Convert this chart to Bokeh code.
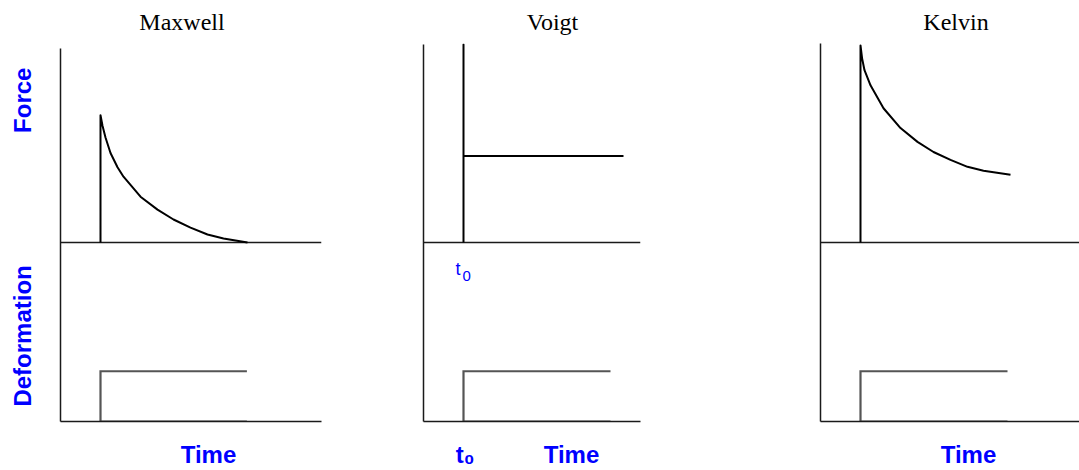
from bokeh.plotting import figure
from bokeh.models import Range1d, Label, FixedTicker, LinearAxis
from bokeh.layouts import row
from bokeh.embed import file_html
from bokeh.resources import INLINE

# ---------------- data ----------------
models = ["Maxwell", "Voigt", "Kelvin"]
t0 = 1.0  # time of load application

# force responses (time units, force units)
maxwell_t = [1.0, 1.0, 1.05, 1.125, 1.25, 1.425, 1.575, 2.0, 2.425, 2.825, 3.25, 3.675, 4.075, 4.675]
maxwell_f = [0.0, 0.643, 0.59, 0.53, 0.452, 0.38, 0.332, 0.231, 0.166, 0.116, 0.075, 0.040, 0.020, 0.0]

voigt_t = [1.0, 1.0, 1.0, 5.0]
voigt_f = [0.0, 1.0, 0.437, 0.437]

kelvin_t = [1.0, 1.0, 1.04, 1.1, 1.25, 1.575, 2.0, 2.425, 2.825, 3.25, 3.675, 4.075, 4.75]
kelvin_f = [0.0, 0.995, 0.93, 0.87, 0.794, 0.678, 0.578, 0.508, 0.457, 0.417, 0.382, 0.362, 0.342]

# deformation step: end time and step height
deform_end = [4.66, 4.675, 4.675]
deform_level = [1.0, 1.0, 1.0]

force_t = [maxwell_t, voigt_t, kelvin_t]
force_f = [maxwell_f, voigt_f, kelvin_f]

# axis texts
y_labels = ["Force", "Deformation"]
x_label = "Time"
t0_label = "t\u2080"

# ---------------- layout (pixel geometry) ----------------
H = 470
FT = 43            # common frame top
PX_T = 40.0        # px per time unit
PX_F = 199.0       # px per force unit
PX_D = 50.5        # px per deformation unit
BASE_Y = 243       # y of force baseline
BOT_Y = 423        # y of time axis

cols = [
    dict(left=0,   width=370, fl=60,  fr=321,  axis_top=48),
    dict(left=370, width=390, fl=423, fr=640,  axis_top=44),
    dict(left=760, width=319, fl=820, fr=1079, axis_top=43),
]
title_center_x = [181.5, 552.0, 955.5]
title_standoff = [9, 9, 9]
time_center_x = [208, 571, 968]
ylab_center_y = [100, 337]

BLUE = "#0000ff"
AXC = "#1a1a1a"


def plain_axis(ax):
    ax.major_tick_line_color = None
    ax.minor_tick_line_color = None
    ax.major_tick_out = 0
    ax.major_tick_in = 0
    ax.minor_tick_out = 0
    ax.minor_tick_in = 0


figs = []
for i, c in enumerate(cols):
    bl = c["fl"] - c["left"]
    fw = c["fr"] - c["fl"]
    br = c["width"] - bl - fw
    bb = H - BOT_Y

    def T(x, c=c):
        return (x - c["fl"]) / PX_T

    def F(y):
        return (BASE_Y - y) / PX_F

    def D(y):
        return (BOT_Y - y) / PX_D

    p = figure(width=c["width"], height=H, output_backend="svg", toolbar_location=None,
               title=None,
               min_border_left=bl, min_border_right=br, min_border_top=FT, min_border_bottom=bb,
               x_range=Range1d(0, fw / PX_T),
               y_range=Range1d(0, (BOT_Y - FT) / PX_D))
    p.extra_y_ranges = {"force": Range1d(-(BOT_Y - BASE_Y) / PX_F, (BASE_Y - FT) / PX_F)}
    p.outline_line_color = None
    p.grid.visible = False
    p.background_fill_color = "white"
    p.border_fill_color = "white"

    bx = p.below[0]   # time axis
    ly = p.left[0]    # vertical axis

    for ax in (bx, ly):
        plain_axis(ax)
        ax.axis_line_color = AXC
        ax.axis_line_width = 1.5
        ax.major_label_text_font = "Liberation Sans"
        ax.major_label_text_font_style = "bold"
        ax.major_label_text_font_size = "24px"
        ax.major_label_text_color = BLUE
    ly.bounds = (0, D(c["axis_top"]))

    # x axis: "Time" (and t0 for Voigt)
    xt = [T(time_center_x[i])]
    xo = {xt[0]: x_label}
    if i == 1:
        xt.append(t0 + 0.04)
        xo[xt[1]] = t0_label
    bx.ticker = FixedTicker(ticks=xt)
    bx.major_label_overrides = xo
    bx.major_label_standoff = 19

    # y axis: Force / Deformation labels on the first panel only
    if i == 0:
        yt = [D(y) for y in ylab_center_y]
        ly.ticker = FixedTicker(ticks=yt)
        ly.major_label_overrides = {yt[0]: y_labels[0], yt[1]: y_labels[1]}
        ly.major_label_orientation = "vertical"
        ly.major_label_standoff = 24
    else:
        ly.ticker = FixedTicker(ticks=[])

    # model name above the panel
    tc = T(title_center_x[i])
    top = LinearAxis(ticker=FixedTicker(ticks=[tc]), major_label_overrides={tc: models[i]})
    plain_axis(top)
    top.axis_line_color = None
    top.major_label_text_font = "Liberation Serif"
    top.major_label_text_font_size = "24px"
    top.major_label_text_font_style = "normal"
    top.major_label_text_line_height = 1.0
    top.major_label_text_color = "black"
    top.major_label_standoff = title_standoff[i]
    p.add_layout(top, "above")

    # force baseline across the frame
    p.line(x=[p.x_range.start, p.x_range.end], y=[0, 0], y_range_name="force",
           line_color=AXC, line_width=1.5)

    # deformation step
    te = deform_end[i]
    lv = deform_level[i]
    p.line(x=[te, t0, t0, te], y=[0, 0, lv, lv], line_color="#555555", line_width=2.2,
           line_join="miter")

    # force response
    p.line(x=force_t[i], y=force_f[i], y_range_name="force", line_color="black",
           line_width=2, line_join="round")

    if i == 1:
        # t0 marker under the force baseline
        p.add_layout(Label(x=T(455), y=F(270), y_range_name="force", text="t",
                           text_font="Liberation Sans", text_font_size="18px", text_color=BLUE,
                           text_align="left", text_baseline="alphabetic"))
        p.add_layout(Label(x=T(462), y=F(277), y_range_name="force", text="0",
                           text_font="Liberation Sans", text_font_size="15px", text_color=BLUE,
                           text_align="left", text_baseline="alphabetic"))
    figs.append(p)

layout = row(*figs, spacing=0)
open("out.html", "w").write(file_html(layout, INLINE))
